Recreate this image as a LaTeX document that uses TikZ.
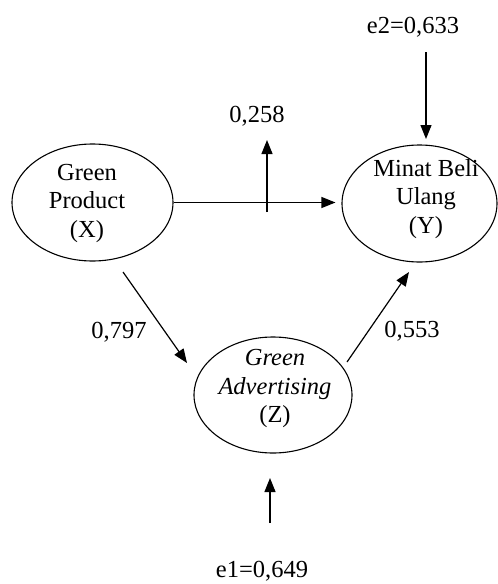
\documentclass[tikz,border=0pt]{standalone}
\usepackage{fontspec}
\setmainfont{Liberation Serif}
\usetikzlibrary{shapes.geometric,arrows.meta}
\begin{document}
\begin{tikzpicture}[x=1pt,y=-1pt,
  var/.style={draw, ellipse, line width=1.1pt, inner sep=0pt},
  txt/.style={align=center, inner sep=0pt, font=\fontsize{24.5}{28.5}\selectfont},
  lab/.style={inner sep=0pt, anchor=base, font=\fontsize{24.5}{28.5}\selectfont},
  arr/.style={line width=1.2pt, -{Triangle[length=14pt,width=11pt]}}]
\useasboundingbox (0,0) rectangle (498,584);
% variables
\node[var, minimum width=161pt, minimum height=117pt] (X) at (92.5,202.5) {};
\node[var, minimum width=155pt, minimum height=117pt] (Y) at (419.5,203.5) {};
\node[var, minimum width=158pt, minimum height=116pt] (Z) at (273,395) {};
\node[txt] (Xt) at (87,203) {Green\\Product\\(X)};
\node[txt] (Yt) at (426,199) {Minat Beli\\Ulang\\(Y)};
\node[txt] (Zt) at (275,388.5) {\textit{Green}\\\textit{Advertising}\\(Z)};
% labels
\node[lab] (l258) at (257,122) {0,258};
\node[lab] (l797) at (119,338) {0,797};
\node[lab] (l553) at (412,337) {0,553};
\node[lab] (e2) at (413,33) {e2=0,633};
\node[lab] (e1) at (262,577) {e1=0,649};
% coordinates
\coordinate (m) at (267,212);
\coordinate (mt) at (267,140);
\coordinate (xz1) at (123,272);
\coordinate (xz2) at (187,363);
\coordinate (zy1) at (347,362);
\coordinate (zy2) at (409,272);
\coordinate (e2s) at (426,52);
\coordinate (e2t) at (426,139);
\coordinate (e1s) at (270,523);
\coordinate (e1t) at (270,478);
% connectors
\draw[arr] (X.east) -- (X.east -| Y.west) [shorten >=6pt];
\draw[arr] (m) -- (mt);
\draw[arr] (xz1) -- (xz2);
\draw[arr] (zy1) -- (zy2);
\draw[arr] (e2s) -- (e2t);
\draw[arr] (e1s) -- (e1t);
\end{tikzpicture}
\end{document}
